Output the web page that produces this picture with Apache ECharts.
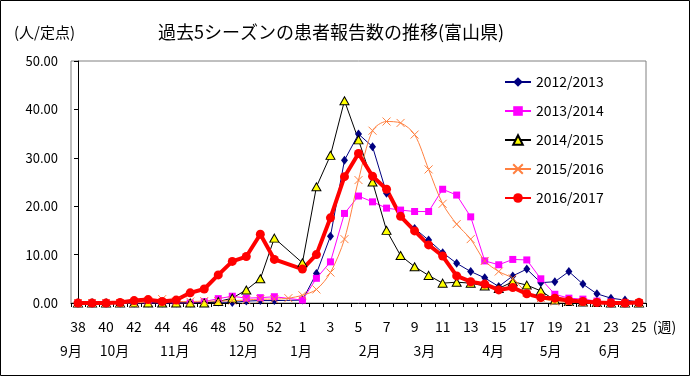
<!DOCTYPE html>
<html>
<head>
<meta charset="utf-8">
<script src="https://cdn.jsdelivr.net/npm/echarts@6/dist/echarts.min.js"></script>
<style>
  html, body { margin: 0; padding: 0; background: #fff; }
  #chart { width: 690px; height: 376px; }
</style>
</head>
<body>
<div id="chart"></div>
<script>
// week numbers (season 2015/2016 has week 53)
var weeks = ['38','39','40','41','42','43','44','45','46','47','48','49','50','51','52','53',
  '1','2','3','4','5','6','7','8','9','10','11','12','13','14','15','16','17','18','19','20','21','22','23','24','25'];

// month labels, placed at a week position
var months = ['9月','10月','11月','12月','1月','2月','3月','4月','5月','6月'];
var monthWeeks = [-0.5, 2.6, 6.9, 11.8, 15.9, 20.8, 24.7, 29.6, 33.7, 37.9];

var seasons = ['2012/2013','2013/2014','2014/2015','2015/2016','2016/2017'];

var s1213 = [0,0,0,0,0,0,0,0,0,0.1,0.2,0.1,0.4,0.5,0.5,null,
  0.6,6.1,13.8,29.5,34.9,32.3,22.7,18.2,15.4,13.0,10.4,8.2,6.5,5.2,3.4,5.6,7.0,4.2,4.4,6.5,3.9,1.9,1.0,0.6,0.2];
var s1314 = [0,0,0,0,0,0,0,0,0,0.3,0.9,1.4,1.0,1.1,1.3,null,
  0.6,5.1,8.5,18.5,22.1,20.9,19.6,19.2,18.9,18.9,23.5,22.3,17.8,8.7,7.9,9.0,8.9,5.0,1.8,1.0,0.8,0.4,0.2,0.1,0];
var s1415 = [0,0,0,0,0,0,0,0,0,0,0.3,1.0,2.7,5.0,13.4,null,
  8.3,24.0,30.5,41.8,33.7,25.0,15.0,9.8,7.5,5.7,4.1,4.3,4.1,3.5,3.0,4.4,3.7,2.5,0.6,0.3,0.2,0.1,0,0,0];
var s1516 = [0,0,0,0,0,0.3,0.8,0.3,0.3,0.4,0.4,0.5,0.6,0.8,0.8,1.0,
  1.6,2.8,6.3,13.2,25.4,35.6,37.5,37.2,34.8,27.6,20.5,16.3,13.2,8.7,6.5,5.1,2.1,1.0,0.3,0.2,0.1,0,0,0,0];
var s1617 = [0,0,0,0.1,0.5,0.7,0.3,0.6,2.1,2.9,5.8,8.6,9.6,14.2,9.0,null,
  7.0,10.0,17.6,26.1,30.9,26.2,23.5,17.9,14.9,12.0,9.7,5.6,4.4,3.9,2.7,3.2,1.9,1.1,1.0,0.5,0.3,0.1,0,0,0.1];

var font = '"Noto Sans CJK JP", sans-serif';
var chart = echarts.init(document.getElementById('chart'));

var option = {
  animation: false,
  textStyle: { fontFamily: font, color: '#000' },
  title: [
    { text: '過去5シーズンの患者報告数の推移(富山県)', left: 326, top: 18, textAlign: 'center',
      textStyle: { fontSize: 18, fontWeight: 'normal', color: '#000', fontFamily: font } },
    { text: '(人/定点)', left: 9, top: 20,
      textStyle: { fontSize: 15, fontWeight: 'normal', color: '#000', fontFamily: font } }
  ],
  graphic: [{
    type: 'rect', silent: true,
    shape: { x: 0.5, y: 0.5, width: 689, height: 375 },
    style: { fill: 'none', stroke: '#000', lineWidth: 1 }
  }],
  legend: {
    orient: 'vertical', left: 499, top: 70,
    itemWidth: 26, itemHeight: 12, itemGap: 15,
    textStyle: { fontSize: 14, color: '#000', fontFamily: font },
    data: seasons
  },
  grid: {
    left: 71, right: 44, top: 61, bottom: 73,
    show: true, borderColor: '#808080', borderWidth: 1, backgroundColor: 'transparent'
  },
  xAxis: [{
    type: 'category', data: weeks, boundaryGap: true,
    name: '(週)', nameLocation: 'end', nameGap: 6,
    nameTextStyle: { fontSize: 14, color: '#000', verticalAlign: 'top', padding: [17, 0, 0, 0] },
    axisLine: { lineStyle: { color: '#000', width: 1 } },
    axisTick: { show: true, interval: 0, length: 4, lineStyle: { color: '#000' } },
    axisLabel: { interval: 1, margin: 17, fontSize: 14, color: '#000' },
    splitLine: { show: false }
  }, {
    type: 'value', position: 'bottom', min: -0.5, max: 40.5,
    axisLine: { show: false }, axisTick: { show: false }, splitLine: { show: false },
    axisLabel: {
      show: true, margin: 41, fontSize: 14, color: '#000',
      customValues: monthWeeks,
      formatter: function (v) {
        var i = monthWeeks.indexOf(v);
        return i >= 0 ? months[i] : '';
      }
    }
  }],
  yAxis: {
    type: 'value', min: 0, max: 50, interval: 10,
    axisLine: { show: true, lineStyle: { color: '#000', width: 1 } },
    axisTick: { show: true, length: 4, lineStyle: { color: '#000' } },
    axisLabel: { margin: 13, fontSize: 13, color: '#000',
      formatter: function (v) { return v.toFixed(2); } },
    splitLine: { show: false }
  },
  series: [{
    name: seasons[0], type: 'line', data: s1213, connectNulls: true,
    symbol: 'diamond', symbolSize: [7, 9],
    lineStyle: { color: '#000080', width: 1 },
    itemStyle: { color: '#000080' }
  }, {
    name: seasons[1], type: 'line', data: s1314, connectNulls: true,
    symbol: 'rect', symbolSize: 7,
    lineStyle: { color: '#FF00FF', width: 1 },
    itemStyle: { color: '#FF00FF' }
  }, {
    name: seasons[2], type: 'line', data: s1415, connectNulls: true,
    symbol: 'triangle', symbolSize: [9, 8],
    lineStyle: { color: '#000', width: 1 },
    itemStyle: { color: '#FFFF00', borderColor: '#000', borderWidth: 1 }
  }, {
    name: seasons[3], type: 'line', data: s1516, connectNulls: true, smooth: 0.3,
    symbol: 'path://M0,0L10,10M10,0L0,10', symbolSize: 8,
    lineStyle: { color: '#FF8040', width: 1 },
    itemStyle: { color: '#FF8040', borderColor: '#FF8040', borderWidth: 1 }
  }, {
    name: seasons[4], type: 'line', data: s1617, connectNulls: true,
    symbol: 'circle', symbolSize: 9,
    lineStyle: { color: '#FF0000', width: 4 },
    itemStyle: { color: '#FF0000' }
  }]
};

chart.setOption(option);
</script>
</body>
</html>
